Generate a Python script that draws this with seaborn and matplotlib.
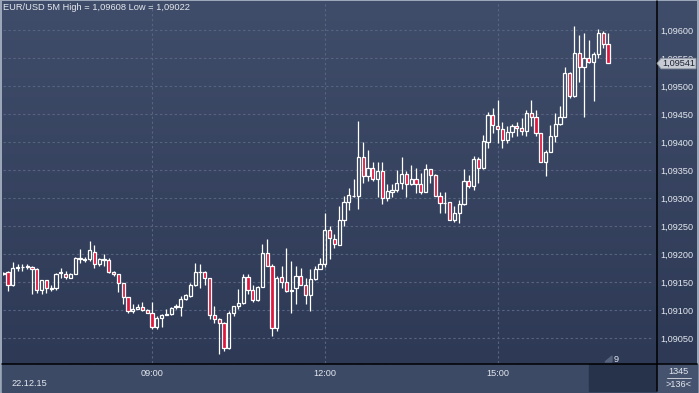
import numpy as np
import pandas as pd
import matplotlib
matplotlib.use("Agg")
import matplotlib.pyplot as plt
import seaborn as sns
from matplotlib.patches import Rectangle, Polygon
from matplotlib.lines import Line2D
from matplotlib.colors import LinearSegmentedColormap

# ---------------- data ----------------
chart_title = "EUR/USD 5M High = 1,09608 Low = 1,09022"
date_label = "22.12.15"
time_labels = ["09:00", "12:00", "15:00"]
time_label_bars = [31, 67, 103]          # bar index where the hour starts
price_ticks = [1.09050, 1.09100, 1.09150, 1.09200, 1.09250, 1.09300,
               1.09350, 1.09400, 1.09450, 1.09500, 1.09550, 1.09600]
price_tick_labels = ["1,09050", "1,09100", "1,09150", "1,09200", "1,09250", "1,09300",
                     "1,09350", "1,09400", "1,09450", "1,09500", "1,09550", "1,09600"]
last_price = 1.09541
last_price_label = "1,09541"
counter_top = "1345"
counter_bottom = ">136<"
bar_marker_label = "9"

opens = [1.09164, 1.09168, 1.09145, 1.09176, 1.09177, 1.09177, 1.09178, 1.09174, 1.09137, 1.09154,
         1.09138, 1.09139, 1.09167, 1.09165, 1.09158, 1.09165, 1.09194, 1.09190, 1.09191, 1.09205,
         1.09183, 1.09192, 1.09189, 1.09169, 1.09164, 1.09148, 1.09123, 1.09098, 1.09103, 1.09106,
         1.09101, 1.09096, 1.09070, 1.09087, 1.09092, 1.09093, 1.09106, 1.09106, 1.09120, 1.09126,
         1.09146, 1.09168, 1.09168, 1.09157, 1.09092, 1.09085, 1.09078, 1.09033, 1.09096, 1.09107,
         1.09113, 1.09160, 1.09137, 1.09118, 1.09142, 1.09203, 1.09180, 1.09069, 1.09160, 1.09151,
         1.09134, 1.09139, 1.09162, 1.09146, 1.09127, 1.09156, 1.09174, 1.09183, 1.09243, 1.09228,
         1.09217, 1.09262, 1.09293, 1.09304, 1.09304, 1.09373, 1.09340, 1.09355, 1.09334, 1.09349,
         1.09300, 1.09312, 1.09314, 1.09327, 1.09343, 1.09326, 1.09334, 1.09326, 1.09312, 1.09352,
         1.09341, 1.09305, 1.09291, 1.09293, 1.09262, 1.09274, 1.09289, 1.09331, 1.09322, 1.09371,
         1.09355, 1.09401, 1.09448, 1.09430, 1.09423, 1.09405, 1.09419, 1.09430, 1.09425, 1.09420,
         1.09452, 1.09445, 1.09416, 1.09365, 1.09382, 1.09412, 1.09432, 1.09446, 1.09523, 1.09483,
         1.09559, 1.09535, 1.09551, 1.09543, 1.09557, 1.09596, 1.09575]

highs = [1.09168, 1.09170, 1.09187, 1.09182, 1.09182, 1.09182, 1.09179, 1.09176, 1.09155, 1.09155,
         1.09145, 1.09167, 1.09176, 1.09170, 1.09167, 1.09195, 1.09209, 1.09195, 1.09223, 1.09217,
         1.09194, 1.09201, 1.09194, 1.09170, 1.09165, 1.09149, 1.09124, 1.09112, 1.09111, 1.09114,
         1.09102, 1.09114, 1.09089, 1.09093, 1.09102, 1.09106, 1.09111, 1.09126, 1.09129, 1.09148,
         1.09185, 1.09182, 1.09170, 1.09158, 1.09108, 1.09086, 1.09079, 1.09099, 1.09108, 1.09138,
         1.09165, 1.09165, 1.09146, 1.09143, 1.09218, 1.09227, 1.09182, 1.09161, 1.09179, 1.09211,
         1.09188, 1.09179, 1.09176, 1.09158, 1.09174, 1.09179, 1.09194, 1.09273, 1.09251, 1.09236,
         1.09287, 1.09304, 1.09319, 1.09334, 1.09438, 1.09400, 1.09387, 1.09364, 1.09365, 1.09365,
         1.09326, 1.09326, 1.09351, 1.09373, 1.09349, 1.09360, 1.09355, 1.09345, 1.09361, 1.09353,
         1.09343, 1.09311, 1.09311, 1.09294, 1.09286, 1.09297, 1.09352, 1.09342, 1.09375, 1.09374,
         1.09413, 1.09455, 1.09461, 1.09476, 1.09437, 1.09429, 1.09433, 1.09436, 1.09443, 1.09457,
         1.09476, 1.09457, 1.09417, 1.09387, 1.09431, 1.09452, 1.09465, 1.09534, 1.09526, 1.09608,
         1.09592, 1.09596, 1.09583, 1.09561, 1.09602, 1.09599, 1.09595]

lows = [1.09163, 1.09134, 1.09143, 1.09170, 1.09170, 1.09174, 1.09130, 1.09131, 1.09130, 1.09131,
        1.09134, 1.09137, 1.09158, 1.09156, 1.09157, 1.09164, 1.09185, 1.09187, 1.09188, 1.09176,
        1.09180, 1.09179, 1.09167, 1.09161, 1.09133, 1.09111, 1.09096, 1.09096, 1.09102, 1.09099,
        1.09095, 1.09067, 1.09067, 1.09071, 1.09091, 1.09092, 1.09102, 1.09090, 1.09118, 1.09124,
        1.09143, 1.09140, 1.09146, 1.09084, 1.09078, 1.09022, 1.09027, 1.09031, 1.09090, 1.09102,
        1.09111, 1.09129, 1.09115, 1.09117, 1.09141, 1.09179, 1.09055, 1.09063, 1.09140, 1.09133,
        1.09096, 1.09111, 1.09145, 1.09111, 1.09099, 1.09155, 1.09173, 1.09178, 1.09192, 1.09211,
        1.09216, 1.09251, 1.09279, 1.09302, 1.09281, 1.09328, 1.09331, 1.09331, 1.09303, 1.09290,
        1.09296, 1.09302, 1.09311, 1.09317, 1.09303, 1.09324, 1.09309, 1.09308, 1.09312, 1.09327,
        1.09304, 1.09274, 1.09274, 1.09261, 1.09258, 1.09256, 1.09288, 1.09318, 1.09314, 1.09327,
        1.09352, 1.09389, 1.09416, 1.09398, 1.09389, 1.09399, 1.09409, 1.09412, 1.09413, 1.09412,
        1.09429, 1.09411, 1.09364, 1.09340, 1.09382, 1.09401, 1.09431, 1.09446, 1.09480, 1.09481,
        1.09508, 1.09446, 1.09541, 1.09474, 1.09551, 1.09568, 1.09541]

closes = [1.09167, 1.09146, 1.09176, 1.09177, 1.09178, 1.09179, 1.09174, 1.09137, 1.09154, 1.09139,
          1.09139, 1.09165, 1.09168, 1.09159, 1.09165, 1.09194, 1.09191, 1.09192, 1.09207, 1.09183,
          1.09192, 1.09189, 1.09169, 1.09164, 1.09148, 1.09123, 1.09098, 1.09103, 1.09106, 1.09100,
          1.09096, 1.09070, 1.09087, 1.09092, 1.09093, 1.09105, 1.09107, 1.09120, 1.09127, 1.09146,
          1.09168, 1.09169, 1.09157, 1.09092, 1.09085, 1.09078, 1.09033, 1.09096, 1.09107, 1.09113,
          1.09160, 1.09137, 1.09118, 1.09142, 1.09203, 1.09180, 1.09069, 1.09158, 1.09151, 1.09134,
          1.09137, 1.09162, 1.09146, 1.09127, 1.09156, 1.09174, 1.09183, 1.09243, 1.09229, 1.09218,
          1.09262, 1.09293, 1.09306, 1.09305, 1.09373, 1.09340, 1.09355, 1.09334, 1.09349, 1.09300,
          1.09313, 1.09315, 1.09327, 1.09343, 1.09326, 1.09334, 1.09326, 1.09312, 1.09352, 1.09341,
          1.09305, 1.09291, 1.09292, 1.09262, 1.09274, 1.09289, 1.09331, 1.09322, 1.09371, 1.09355,
          1.09403, 1.09449, 1.09431, 1.09423, 1.09405, 1.09418, 1.09430, 1.09425, 1.09420, 1.09452,
          1.09445, 1.09416, 1.09365, 1.09382, 1.09412, 1.09432, 1.09446, 1.09523, 1.09483, 1.09559,
          1.09535, 1.09551, 1.09543, 1.09557, 1.09596, 1.09576, 1.09541]

df = pd.DataFrame({"bar": np.arange(len(opens)), "open": opens, "high": highs,
                   "low": lows, "close": closes})
df["top"] = df[["open", "close"]].max(axis=1)
df["bottom"] = df[["open", "close"]].min(axis=1)
df["bear"] = df["close"] < df["open"]

# ---------------- style ----------------
sns.set_theme(style="dark")
plt.rcParams["font.family"] = ["Liberation Sans", "DejaVu Sans"]

W, H = 699, 393
TXT = "#e4e8ee"
RED = "#e0163c"


def box(x0, y0, x1, y1):
    return [x0 / W, 1 - y1 / H, (x1 - x0) / W, (y1 - y0) / H]


fig = plt.figure(figsize=(W / 100, H / 100), dpi=100, facecolor="#9ba7b8")

# gradient background for chart + price panel
bg = fig.add_axes(box(2, 1, 697, 364))
bg.set_zorder(-1)
cmap = LinearSegmentedColormap.from_list("g", ["#404d6a", "#2d3955"])
bg.imshow(np.linspace(0, 1, 256).reshape(-1, 1), aspect="auto", cmap=cmap,
          extent=[0, 1, 0, 1])
bg.set_axis_off()

# bottom strips
fig.add_artist(Rectangle((2 / W, 1 - 392 / H), 695 / W, 28 / H,
                         transform=fig.transFigure, color="#3d4a66", zorder=0.5))
fig.add_artist(Rectangle((589 / W, 1 - 391 / H), 67 / W, 27 / H,
                         transform=fig.transFigure, color="#27324b", zorder=0.6))
fig.add_artist(Rectangle((657 / W, 1 - 392 / H), 40 / W, 28 / H,
                         transform=fig.transFigure, color="#45536f", zorder=0.6))

# main price axes
ax = fig.add_axes(box(3, 2, 656, 363))
ax.set_zorder(2)
ax.set_facecolor("none")
sns.despine(ax=ax, left=True, bottom=True, right=True, top=True)

x_left, x_right = -0.04, 136.0
y_top = 1.09600 + (30.3 - 2) * 0.0005 / 28
y_bot = 1.09600 - (363 - 30.3) * 0.0005 / 28
ax.set_xlim(x_left, x_right)
ax.set_ylim(y_bot, y_top)

# grid
grid_kw = dict(color="#56647f", lw=0.8, linestyles=(0, (2.2, 2.2)), zorder=1)
ax.hlines(price_ticks, x_left, x_right - 0.6, **grid_kw)
ax.vlines(time_label_bars, y_bot, y_top, **grid_kw)
ax.grid(False)

# candles
bw = 0.66
ax.vlines(df["bar"], df["top"], df["high"], color="white", lw=0.9, zorder=3)
ax.vlines(df["bar"], df["low"], df["bottom"], color="white", lw=0.9, zorder=3)
for _, r in df.iterrows():
    h = max(r["top"] - r["bottom"], 0.000008)
    ax.add_patch(Rectangle((r["bar"] - bw / 2, r["bottom"]), bw, h,
                           facecolor=RED if r["bear"] else "none",
                           edgecolor="white", lw=0.9, zorder=4))

# axes ticks
ax.yaxis.tick_right()
ax.set_yticks(price_ticks)
ax.set_yticklabels(price_tick_labels)
ax.tick_params(axis="y", length=0, pad=3.2, labelsize=6.6, labelcolor=TXT)
ax.set_xticks(time_label_bars)
ax.set_xticklabels(time_labels)
ax.tick_params(axis="x", length=0, pad=4.2, labelsize=6.6, labelcolor=TXT)

# separator lines
fig.add_artist(Line2D([656.5 / W, 656.5 / W], [1 - 1 / H, 1 - 391 / H],
                      color="black", lw=1.1, transform=fig.transFigure, zorder=5))
fig.add_artist(Line2D([2 / W, 697 / W], [1 - 363.5 / H, 1 - 363.5 / H],
                      color="black", lw=1.1, transform=fig.transFigure, zorder=5))

# title
fig.text(3 / W, 1 - 7.5 / H, chart_title, fontsize=6.7, color=TXT, va="center", ha="left")

# date
fig.text(11 / W, 1 - 384 / H, date_label, fontsize=6.6, color=TXT, va="center", ha="left",
         zorder=6)

# last price tag (drawn above the 1,09550 label, as in the terminal)
yp = ax.transData.transform((0, last_price))[1]
yp_px = H - yp
tag = Polygon([(657 / W, 1 - yp_px / H), (661 / W, 1 - (yp_px - 5) / H),
               (696 / W, 1 - (yp_px - 5) / H), (696 / W, 1 - (yp_px + 5.5) / H),
               (661 / W, 1 - (yp_px + 5.5) / H)], closed=True,
              transform=fig.transFigure, facecolor="#c7cbd3", edgecolor="#8c93a0",
              lw=0.6, zorder=6)
fig.add_artist(tag)
fig.text(662 / W, 1 - (yp_px + 0.3) / H, last_price_label, fontsize=6.6,
         color="#1b2231", va="center", ha="left", zorder=7)

# bar marker
fig.add_artist(Polygon([(605 / W, 1 - 362 / H), (612 / W, 1 - 356 / H), (612 / W, 1 - 362 / H)],
                       closed=True, transform=fig.transFigure, color="#56627b", zorder=5))
fig.text(616 / W, 1 - 359.5 / H, bar_marker_label, fontsize=6.6, color=TXT,
         va="center", ha="center", zorder=6)

# counter box
fig.text(678 / W, 1 - 371.5 / H, counter_top, fontsize=6.6, color=TXT, va="center",
         ha="center", zorder=6)
fig.add_artist(Line2D([667 / W, 691 / W], [1 - 378.3 / H, 1 - 378.3 / H],
                      color="#c8ccd6", lw=0.7, transform=fig.transFigure, zorder=6))
fig.text(678 / W, 1 - 384.5 / H, counter_bottom, fontsize=6.6, color=TXT, va="center",
         ha="center", zorder=6)

fig.savefig("out.png", dpi=100, facecolor=fig.get_facecolor())
